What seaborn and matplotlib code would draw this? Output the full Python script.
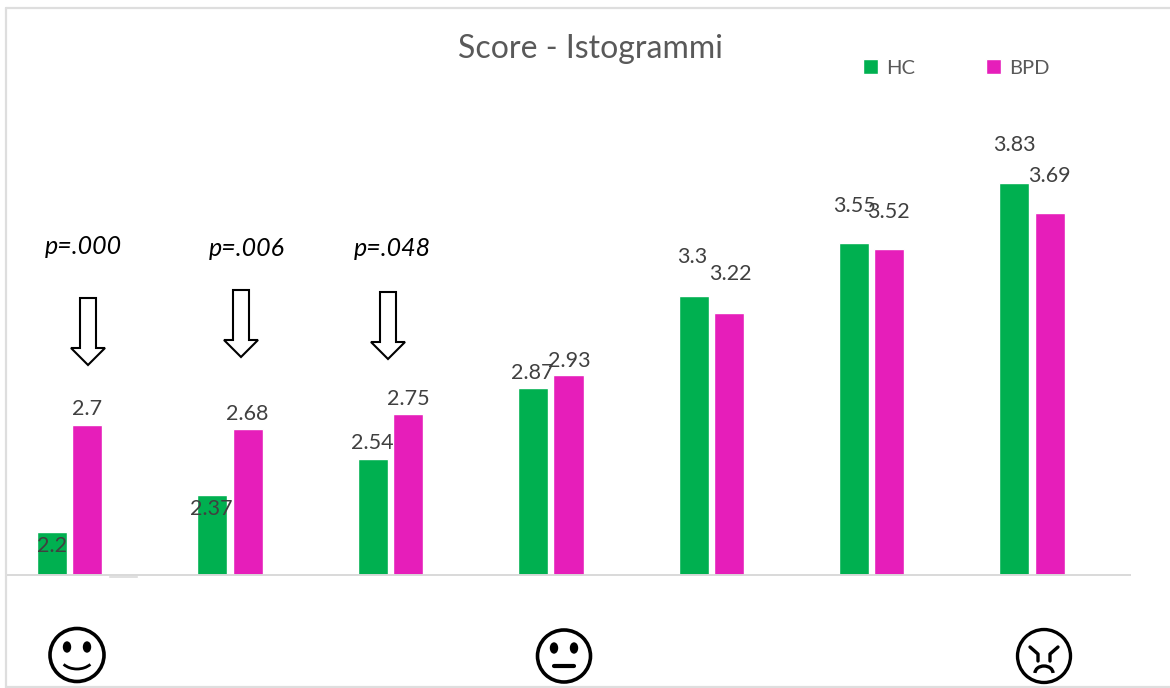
import matplotlib
matplotlib.use("Agg")
import matplotlib.pyplot as plt
from matplotlib.lines import Line2D
from matplotlib.patches import Ellipse, Arc, Polygon
import pandas as pd
import seaborn as sns

# Chart data
morphs = ["Morph 1", "Morph 2", "Morph 3", "Morph 4", "Morph 5", "Morph 6", "Morph 7"]
hc_scores = [2.2, 2.37, 2.54, 2.87, 3.3, 3.55, 3.83]
bpd_scores = [2.7, 2.68, 2.75, 2.93, 3.22, 3.52, 3.69]
spare_scores = [1.985, None, None, None, None, None, None]
p_values = ["p=.000", "p=.006", "p=.048"]

GREEN = "#00B050"
MAGENTA = "#E61EBA"
TEXT = "#595959"
LABEL = "#404040"
BORDER = "#DEDEDE"

W, H = 1170, 688
sns.set_theme(style="white")
plt.rcParams["font.family"] = ["Lato", "DejaVu Sans"]

df = pd.DataFrame({
    "morph": morphs * 3,
    "score": hc_scores + bpd_scores + spare_scores,
    "group": ["HC"] * 7 + ["BPD"] * 7 + ["Other"] * 7,
})

fig = plt.figure(figsize=(W / 100, H / 100), dpi=100, facecolor="white")

# Pixel-space layer for faces and arrows, kept behind the chart axes
layer = fig.add_axes([0, 0, 1, 1], zorder=0)
layer.set_xlim(0, W)
layer.set_ylim(H, 0)
layer.axis("off")

ax = fig.add_axes([7 / W, (H - 574.5) / H, 1123 / W, 566.5 / H], zorder=1)
ax.patch.set_visible(False)

sns.barplot(
    data=df, x="morph", y="score", hue="group", order=morphs,
    hue_order=["HC", "BPD", "Other"],
    palette={"HC": GREEN, "BPD": MAGENTA, "Other": "#D9D9D9"},
    width=0.66, gap=0.15, saturation=1, ax=ax, errorbar=None,
)
ax.set_ylim(2, 2 + 566.5 / 214)
ax.set_xlim(-0.5, 6.5)
ax.set_xlabel("")
ax.set_ylabel("")
ax.set_yticks([])
ax.tick_params(axis="x", length=0, pad=90, labelsize=15.5, labelcolor=TEXT)
for tick in ax.get_xticklabels():
    tick.set_fontweight("bold")
for side in ["top", "left", "right"]:
    ax.spines[side].set_visible(False)
ax.spines["bottom"].set_color("#D9D9D9")
ax.spines["bottom"].set_linewidth(1.4)

# Value labels, nudged per bar so neighbouring numbers stay readable
hc_offsets = [(0, -14), (-1, -14), (0, 16), (-1, 15), (-1, 39), (0, 37), (0, 38)]
bpd_offsets = [(0, 16), (0, 15), (0, 15), (1, 14), (1, 39), (-1, 37), (0, 37)]
for container, values, offsets in zip(ax.containers[:2], [hc_scores, bpd_scores], [hc_offsets, bpd_offsets]):
    for bar, value, offset in zip(container, values, offsets):
        ax.annotate(
            f"{value:g}", (bar.get_x() + bar.get_width() / 2, value),
            xytext=offset, textcoords="offset pixels",
            ha="center", va="center", fontsize=15.5, color=LABEL,
            annotation_clip=False, zorder=5,
        )

# The spare series only shows as a sliver under the axis line
sliver = ax.containers[2][0]
sliver.set_y(spare_scores[0])
sliver.set_height(2 - spare_scores[0])
sliver.set_clip_on(False)

handles, labels = ax.get_legend_handles_labels()
ax.legend(
    handles[:2], labels[:2], ncol=2, frameon=False, fontsize=14.5,
    labelcolor=TEXT, handlelength=0.72, handleheight=0.72, handletextpad=0.45,
    columnspacing=3.5, loc="center left", borderpad=0, borderaxespad=0,
    bbox_to_anchor=(863 / W, (H - 68) / H), bbox_transform=fig.transFigure,
)

fig.text(590 / W, (H - 49) / H, "Score - Istogrammi", ha="center", va="center",
         fontsize=23, color=TEXT)

# Significance annotations with hollow down arrows
p_centres = [(83, 247), (247, 249), (392, 249)]
arrows = [(88, 298, 365), (241, 290, 357), (388, 292, 359)]
for text, centre in zip(p_values, p_centres):
    layer.text(centre[0], centre[1], text, ha="center", va="center",
               fontsize=18, style="italic", color="black")
for x, top, tip in arrows:
    neck = tip - 17
    outline = [(x - 8, top), (x + 8, top), (x + 8, neck), (x + 17, neck),
               (x, tip), (x - 17, neck), (x - 8, neck)]
    layer.add_patch(Polygon(outline, closed=True, facecolor="white",
                            edgecolor="black", linewidth=1.5))


def face_base(cx, cy, w, h):
    layer.add_patch(Ellipse((cx, cy), w, h, facecolor="white", edgecolor="black", linewidth=2.6))
    for side in (-1, 1):
        layer.add_patch(Ellipse((cx + side * 10, cy - 8), 7, 10, color="black"))


# Happy face
face_base(77, 655, 54, 53)
layer.add_patch(Arc((77, 655), 36, 28, theta1=35, theta2=145, color="black", linewidth=2))
layer.patches[-1].set_transform(layer.transData)

# Neutral face
face_base(564, 656, 53, 52)
layer.plot([534 + 20, 574], [665.5, 665.5], color="black", linewidth=3, solid_capstyle="round")

# Angry face
layer.add_patch(Ellipse((1044, 656), 53, 53, facecolor="white", edgecolor="black", linewidth=2.4))
for side in (-1, 1):
    layer.plot([1044 + side * 14, 1044 + side * 6, 1044 + side * 6],
               [647, 654, 661], color="black", linewidth=2.4)
layer.add_patch(Arc((1044, 673), 18, 14, theta1=180, theta2=360, color="black", linewidth=2.4))

# Thin frame along the top, left and bottom of the canvas
for xs, ys in [((6, W), (8, 8)), ((6, 6), (8, H)), ((6, W), (687, 687))]:
    fig.add_artist(Line2D([x / W for x in xs], [(H - y) / H for y in ys],
                          color=BORDER, linewidth=1.6))

fig.savefig("out.png", dpi=100, facecolor="white")
